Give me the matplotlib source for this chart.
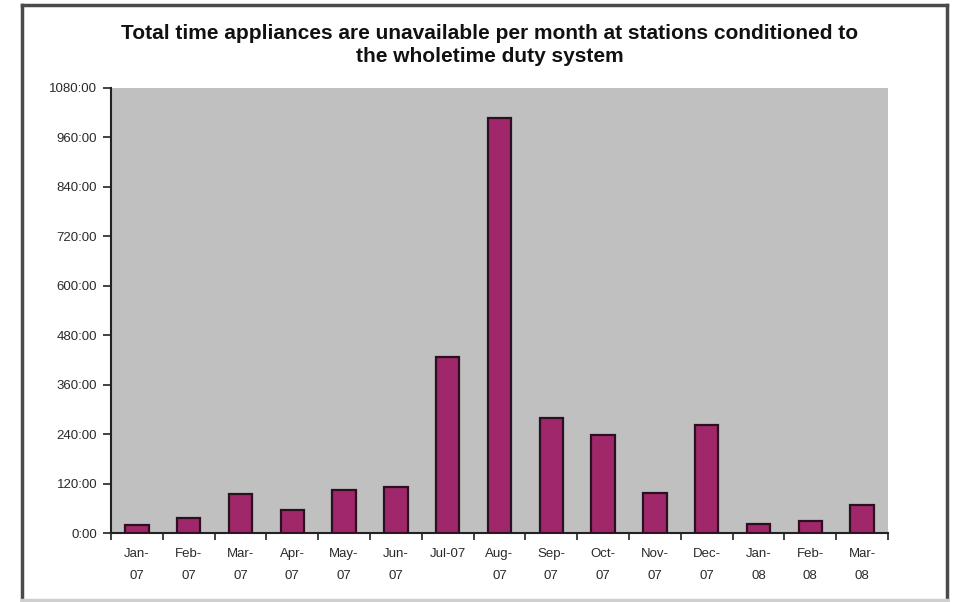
import matplotlib
matplotlib.use("Agg")
import matplotlib.pyplot as plt
from matplotlib.lines import Line2D
import numpy as np

months = ["Jan-\n07", "Feb-\n07", "Mar-\n07", "Apr-\n07", "May-\n07", "Jun-\n07", "Jul-07",
          "Aug-\n07", "Sep-\n07", "Oct-\n07", "Nov-\n07", "Dec-\n07", "Jan-\n08", "Feb-\n08", "Mar-\n08"]
hours = [19, 37, 94, 57, 105, 111, 427, 1007, 280, 237, 97, 262, 23, 30, 67]
ytick_vals = [0, 120, 240, 360, 480, 600, 720, 840, 960, 1080]
ytick_labels = ["0:00", "120:00", "240:00", "360:00", "480:00", "600:00", "720:00", "840:00", "960:00", "1080:00"]
title = "Total time appliances are unavailable per month at stations conditioned to\nthe wholetime duty system"

plt.rcParams['font.family'] = ['Liberation Sans', 'DejaVu Sans']

fig = plt.figure(figsize=(9.55, 6.02), dpi=100)
fig.patch.set_facecolor("white")
ax = fig.add_axes([111/955, 1-533/602, (888-111)/955, (533-88)/602])
ax.set_facecolor("#c0c0c0")

x = np.arange(len(months))
ax.bar(x, hours, width=0.45, color="#a0286a", edgecolor="#2a1020", linewidth=1.6, zorder=3)

ax.set_xlim(-0.5, len(months) - 0.5)
ax.set_ylim(0, 1080)
ax.set_yticks(ytick_vals)
ax.set_yticklabels(ytick_labels, fontsize=9.5, color="#2a2a2a")

ax.set_xticks(np.arange(-0.5, len(months), 1.0))
ax.set_xticklabels([])
ax.set_xticks(x, minor=True)
ax.set_xticklabels(months, minor=True, fontsize=9.5, color="#2a2a2a", linespacing=2.05)
ax.tick_params(axis="x", which="minor", length=0, pad=11)
ax.tick_params(axis="x", which="major", length=5, width=1.2, color="#222222", direction="out")
ax.tick_params(axis="y", length=6, width=1.2, color="#222222", direction="out", pad=4)

for s in ["top", "right"]:
    ax.spines[s].set_visible(False)
for s in ["left", "bottom"]:
    ax.spines[s].set_color("#222222")
    ax.spines[s].set_linewidth(1.5)

fig.text(490/955, 1-45/602, title, ha="center", va="center", fontsize=15,
         fontweight="bold", color="#111111", linespacing=1.3)

W, H = 955, 602
for (x0, y0, x1, y1, c) in [(22, 5, 947, 5, "#4a4a4a"), (22, 5, 22, 602, "#4a4a4a"),
                            (947, 5, 947, 602, "#4a4a4a"), (22, 600, 947, 600, "#cfcfcf")]:
    fig.add_artist(Line2D([x0/W, x1/W], [1-y0/H, 1-y1/H], transform=fig.transFigure,
                          color=c, linewidth=2.5))

fig.savefig("out.png", dpi=100)
